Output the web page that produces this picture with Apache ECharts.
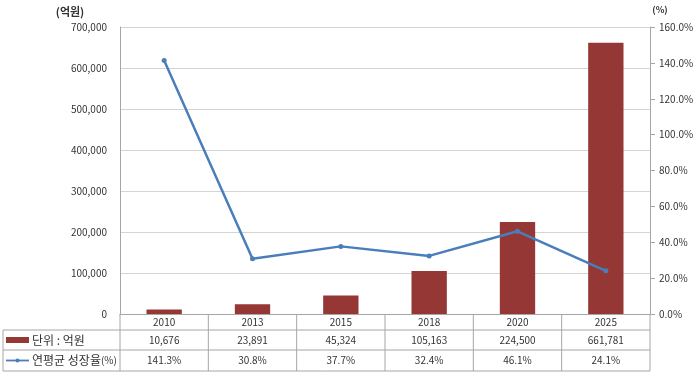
<!DOCTYPE html>
<html><head><meta charset="utf-8">
<script src="https://cdn.jsdelivr.net/npm/echarts@6/dist/echarts.min.js"></script>
<style>html,body{margin:0;padding:0;background:#fff}#c{width:700px;height:374px}</style>
</head><body><div id="c"></div>
<script>
const categories = ['2010', '2013', '2015', '2018', '2020', '2025'];
const marketSize = [10676, 23891, 45324, 105163, 224500, 661781];
const growthRate = [141.3, 30.8, 37.7, 32.4, 46.1, 24.1];
const barLegend = '단위 : 억원';
const lineLegend = '연평균 성장율(%)';
const leftUnit = '(억원)';
const rightUnit = '(%)';

const FONT = '"Noto Sans CJK KR", "Noto Sans", sans-serif';
const TXT = '#333';
const BORDER = '#a6a6a6';
const BAR = '#953735';
const LINE = '#4a7ebb';

const chart = echarts.init(document.getElementById('c'), null, {renderer: 'canvas'});
chart.setOption({
  animation: false,
  textStyle: {fontFamily: FONT},
  grid: {left: 120, right: 50, top: 27, bottom: 60},
  xAxis: {
    type: 'category', data: categories,
    axisLine: {lineStyle: {color: BORDER}},
    axisTick: {show: false},
    axisLabel: {show: false}
  },
  yAxis: [{
    type: 'value', min: 0, max: 700000, interval: 100000,
    axisLine: {show: true, lineStyle: {color: BORDER}},
    axisTick: {show: false},
    splitLine: {lineStyle: {color: '#d4d4d4'}},
    axisLabel: {color: TXT, fontSize: 10, margin: 13, fontFamily: FONT,
      formatter: v => v.toLocaleString('en-US')}
  }, {
    type: 'value', min: 0, max: 160, interval: 20,
    axisLine: {show: true, lineStyle: {color: BORDER}},
    axisTick: {show: true, length: 5, lineStyle: {color: BORDER}},
    splitLine: {show: false},
    axisLabel: {color: TXT, fontSize: 10, margin: 9, fontFamily: FONT,
      formatter: v => v.toFixed(1) + '%'}
  }],
  series: [{
    name: barLegend, type: 'bar', data: marketSize, barWidth: '40%',
    itemStyle: {color: BAR}
  }, {
    name: lineLegend, type: 'line', yAxisIndex: 1, data: growthRate,
    lineStyle: {color: LINE, width: 2.5}, itemStyle: {color: LINE},
    symbol: 'circle', symbolSize: 5
  }]
});

// Data table under the chart
const c0 = chart.convertToPixel({xAxisIndex: 0}, 0);
const c1 = chart.convertToPixel({xAxisIndex: 0}, 1);
const bw = c1 - c0;
const left = c0 - bw / 2;
const right = left + bw * categories.length;
const y0 = chart.convertToPixel({yAxisIndex: 0}, 0);
const r1 = y0 + 16, r2 = y0 + 36, r3 = y0 + 57;
const tLeft = 3;
const els = [];
const line = (x1, y1, x2, y2) => els.push({type: 'line', silent: true,
  shape: {x1, y1, x2, y2}, style: {stroke: BORDER, lineWidth: 1}});
line(tLeft, r1, right, r1);
line(tLeft, r2, right, r2);
line(tLeft, r3, right, r3);
line(tLeft, r1, tLeft, r3);
for (let i = 0; i <= categories.length; i++) {
  const x = left + bw * i;
  line(x, y0, x, r3);
}
const txt = (x, y, t, align, size) => els.push({type: 'text', silent: true, x, y,
  style: {text: t, fill: TXT, fontSize: size || 10, fontFamily: FONT, align: align || 'center', verticalAlign: 'middle'}});
categories.forEach((c, i) => {
  const x = chart.convertToPixel({xAxisIndex: 0}, i);
  txt(x, (y0 + r1) / 2, c);
  txt(x, (r1 + r2) / 2, marketSize[i].toLocaleString('en-US'));
  txt(x, (r2 + r3) / 2, growthRate[i].toFixed(1) + '%');
});
// legend keys
els.push({type: 'rect', silent: true, shape: {x: 6, y: (r1 + r2) / 2 - 3, width: 23, height: 6}, style: {fill: BAR}});
txt(32, (r1 + r2) / 2, barLegend, 'left', 12);
line(6, (r2 + r3) / 2, 29, (r2 + r3) / 2);
els[els.length - 1].style = {stroke: LINE, lineWidth: 1.8};
els.push({type: 'circle', silent: true, shape: {cx: 17.5, cy: (r2 + r3) / 2, r: 2}, style: {fill: LINE}});
els.push({type: 'text', silent: true, x: 32, y: (r2 + r3) / 2, style: {
  text: '{k|연평균 성장율}{p|(%)}', fill: TXT, fontFamily: FONT, verticalAlign: 'middle', align: 'left',
  rich: {k: {fontSize: 12, fontFamily: FONT, fill: TXT}, p: {fontSize: 10, fontFamily: FONT, fill: TXT}}}});
// axis units
els.push({type: 'text', silent: true, x: 70, y: 12, style: {text: leftUnit, fill: TXT, fontSize: 11, fontWeight: 'bold', fontFamily: FONT, align: 'center', verticalAlign: 'middle'}});
els.push({type: 'text', silent: true, x: 660, y: 10, style: {text: rightUnit, fill: TXT, fontSize: 9, fontWeight: 'bold', fontFamily: FONT, align: 'center', verticalAlign: 'middle'}});
chart.setOption({graphic: els});
</script></body></html>
